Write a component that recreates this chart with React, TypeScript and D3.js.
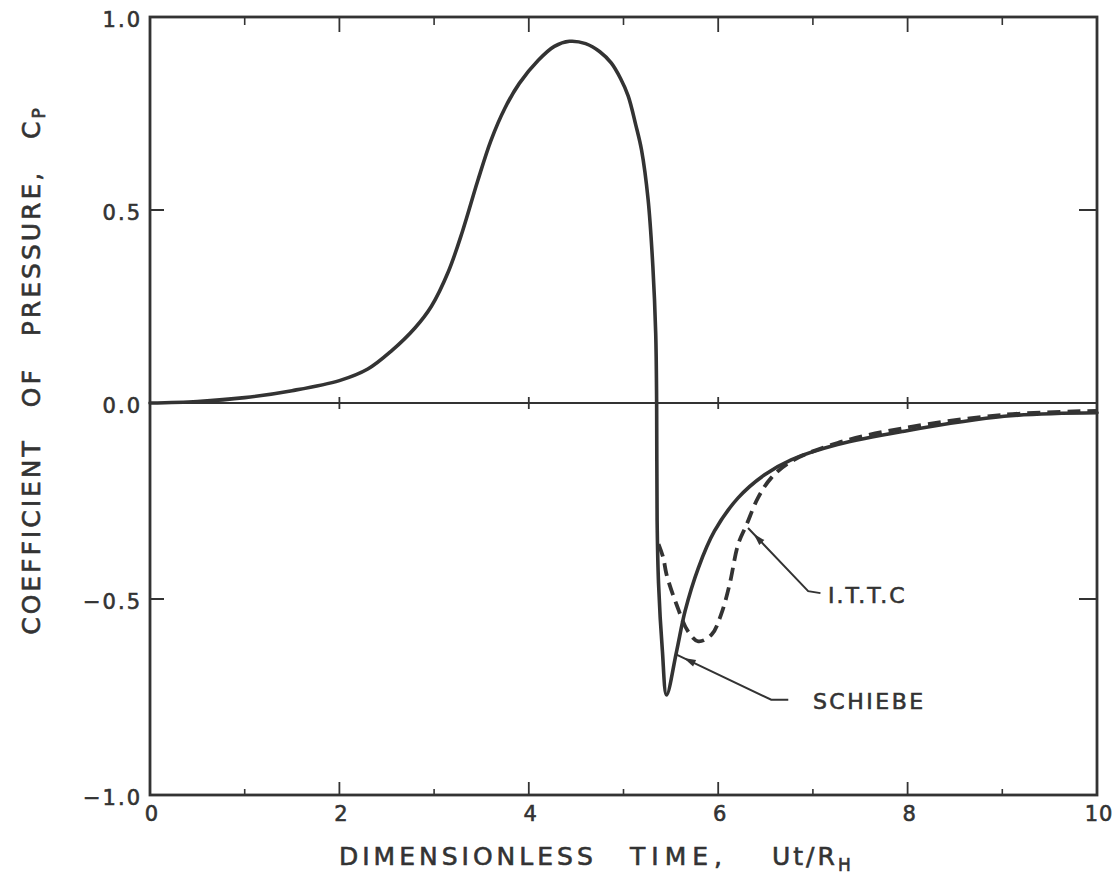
import React from "react";
import * as d3 from "d3";

// ---- data ----
const T_SCHIEBE = [0, 0.5, 1.0, 1.5, 2.0, 2.3, 2.55, 2.8, 2.97, 3.15, 3.3, 3.46, 3.6, 3.75, 3.9, 4.1, 4.27, 4.43, 4.6, 4.75, 4.87, 4.97, 5.05, 5.13, 5.19, 5.26, 5.31, 5.34, 5.35, 5.355, 5.37, 5.41, 5.455, 5.56, 5.65, 5.79, 5.96, 6.21, 6.49, 6.77, 7.26, 7.96, 9.02, 10];
const CP_SCHIEBE = [0, 0.004, 0.014, 0.032, 0.058, 0.088, 0.135, 0.195, 0.25, 0.34, 0.445, 0.575, 0.68, 0.765, 0.828, 0.888, 0.924, 0.937, 0.931, 0.91, 0.881, 0.84, 0.795, 0.72, 0.656, 0.527, 0.354, 0.181, 0.0, -0.3, -0.46, -0.63, -0.745, -0.634, -0.531, -0.421, -0.327, -0.242, -0.183, -0.145, -0.106, -0.072, -0.034, -0.025];

const T_ITTC = [5.37, 5.42, 5.455, 5.56, 5.68, 5.79, 5.93, 6.03, 6.12, 6.21, 6.3, 6.42, 6.56, 6.77, 7.26, 7.96, 9.02, 10];
const CP_ITTC = [-0.36, -0.395, -0.438, -0.514, -0.582, -0.608, -0.591, -0.54, -0.463, -0.361, -0.31, -0.242, -0.191, -0.149, -0.102, -0.064, -0.03, -0.02];

const X_TICKS = [0, 2, 4, 6, 8, 10];
const X_TICK_LABELS = ["0", "2", "4", "6", "8", "10"];
const X_MINOR = [1, 3, 5, 7, 9];
const Y_TICKS = [1, 0.5, 0, -0.5, -1];
const Y_TICK_LABELS = ["1.0", "0.5", "0.0", "\u22120.5", "\u22121.0"];

const LABEL_ITTC = "I.T.T.C";
const ANN_ITTC = { tip: [6.315, -0.319], elbow: [6.95, -0.48], end: [7.08, -0.485], label: [7.16, -0.49] };
const LABEL_SCHIEBE = "SCHIEBE";
const ANN_SCHIEBE = { tip: [5.56, -0.642], elbow: [6.56, -0.757], end: [6.74, -0.757], label: [7.0, -0.76] };

const INK = "#333";
const FONT = "'DejaVu Sans', Verdana, sans-serif";

export default function App() {
  const W = 1120, H = 879;
  const x = d3.scaleLinear().domain([0, 10]).range([150, 1097]);
  const y = d3.scaleLinear().domain([-1, 0, 1]).range([795, 403, 17]);

  const line = d3
    .line<[number, number]>()
    .x((d) => x(d[0]))
    .y((d) => y(d[1]))
    .curve(d3.curveCatmullRom.alpha(0.5));

  const schiebe: [number, number][] = T_SCHIEBE.map((t, i) => [t, CP_SCHIEBE[i]]);
  const ittc: [number, number][] = T_ITTC.map((t, i) => [t, CP_ITTC[i]]);

  const x0 = x(0), x1 = x(10), yTop = y(1), yBot = y(-1);

  const leader = (a: { tip: number[]; elbow: number[]; end: number[] }) => {
    const p = [a.tip, a.elbow, a.end].map((q) => [x(q[0]), y(q[1])]);
    return `M${p[0][0]},${p[0][1]}L${p[1][0]},${p[1][1]}L${p[2][0]},${p[2][1]}`;
  };
  const arrowHead = (a: { tip: number[]; elbow: number[] }) => {
    const tx = x(a.tip[0]), ty = y(a.tip[1]);
    const ex = x(a.elbow[0]), ey = y(a.elbow[1]);
    const len = Math.hypot(ex - tx, ey - ty);
    const ux = (ex - tx) / len, uy = (ey - ty) / len;
    const ax = tx + ux * 8, ay = ty + uy * 8;
    const bx = ax + ux * 12, by = ay + uy * 12;
    const nx = -uy, ny = ux;
    return `M${ax},${ay}L${bx + nx * 3.5},${by + ny * 3.5}L${bx - nx * 3.5},${by - ny * 3.5}Z`;
  };

  const textStyle = { fontFamily: FONT, fill: INK, stroke: INK, strokeWidth: 0.6 } as const;

  return (
    <svg width={W} height={H} style={{ position: "absolute", left: 0, top: 0, background: "#fff" }}>
      <rect x={0} y={0} width={W} height={H} fill="#fff" />
      <rect x={x0} y={yTop} width={x1 - x0} height={yBot - yTop} fill="none" stroke={INK} strokeWidth={2.8} />
      <line x1={x0} x2={x1} y1={y(0)} y2={y(0)} stroke={INK} strokeWidth={2.2} />

      {X_TICKS.slice(1, -1).map((t) => (
        <g key={"xt" + t}>
          <line x1={x(t)} x2={x(t)} y1={yBot} y2={yBot - 13} stroke={INK} strokeWidth={1.8} />
          <line x1={x(t)} x2={x(t)} y1={yTop} y2={yTop + 15} stroke={INK} strokeWidth={1.8} />
          <line x1={x(t)} x2={x(t)} y1={y(0) - 6} y2={y(0) + 6} stroke={INK} strokeWidth={1.8} />
        </g>
      ))}
      {X_MINOR.map((t) => (
        <g key={"xm" + t}>
          <line x1={x(t)} x2={x(t)} y1={yBot} y2={yBot - 6} stroke={INK} strokeWidth={1.6} />
          <line x1={x(t)} x2={x(t)} y1={yTop} y2={yTop + 8} stroke={INK} strokeWidth={1.6} />
        </g>
      ))}
      {[0.5, -0.5].map((v) => (
        <g key={"yt" + v}>
          <line x1={x0} x2={x0 + 14} y1={y(v)} y2={y(v)} stroke={INK} strokeWidth={2} />
          <line x1={x1} x2={x1 - 18} y1={y(v)} y2={y(v)} stroke={INK} strokeWidth={2} />
        </g>
      ))}

      {X_TICKS.map((t, i) => (
        <text key={"xl" + t} x={x(t) + 2} y={821} textAnchor="middle" fontSize={21} letterSpacing={1} style={textStyle}>
          {X_TICK_LABELS[i]}
        </text>
      ))}
      {Y_TICKS.map((v, i) => (
        <text key={"yl" + v} x={142} y={y(v) + 10} textAnchor="end" fontSize={21} letterSpacing={2} style={textStyle}>
          {Y_TICK_LABELS[i]}
        </text>
      ))}

      <path d={line(schiebe) || ""} fill="none" stroke={INK} strokeWidth={3.6} strokeLinejoin="round" strokeLinecap="round" />
      <path d={line(ittc) || ""} fill="none" stroke={INK} strokeWidth={3.8} strokeDasharray="13 7" strokeLinejoin="round" />

      <path d={leader(ANN_ITTC)} fill="none" stroke={INK} strokeWidth={2} />
      <path d={arrowHead(ANN_ITTC)} fill={INK} />
      <text x={x(ANN_ITTC.label[0])} y={y(ANN_ITTC.label[1]) + 8} fontSize={22} letterSpacing={2} style={textStyle}>
        {LABEL_ITTC}
      </text>
      <path d={leader(ANN_SCHIEBE)} fill="none" stroke={INK} strokeWidth={2} />
      <path d={arrowHead(ANN_SCHIEBE)} fill={INK} />
      <text x={x(ANN_SCHIEBE.label[0])} y={y(ANN_SCHIEBE.label[1]) + 8} fontSize={22} letterSpacing={2.5} style={textStyle}>
        {LABEL_SCHIEBE}
      </text>

      <g fontSize={25} letterSpacing={4} style={textStyle}>
        <text x={339} y={865}>DIMENSIONLESS</text>
        <text x={630} y={865} letterSpacing={6}>TIME,</text>
        <text x={772} y={865} letterSpacing={3}>
          Ut/R<tspan fontSize={17} dy={6}>H</tspan>
        </text>
      </g>
      <text
        transform="translate(40,370) rotate(-90)"
        textAnchor="middle"
        fontSize={25}
        letterSpacing={3}
        wordSpacing={20}
        style={textStyle}
      >
        COEFFICIENT OF PRESSURE, C<tspan fontSize={17} dy={5}>P</tspan>
      </text>
    </svg>
  );
}
